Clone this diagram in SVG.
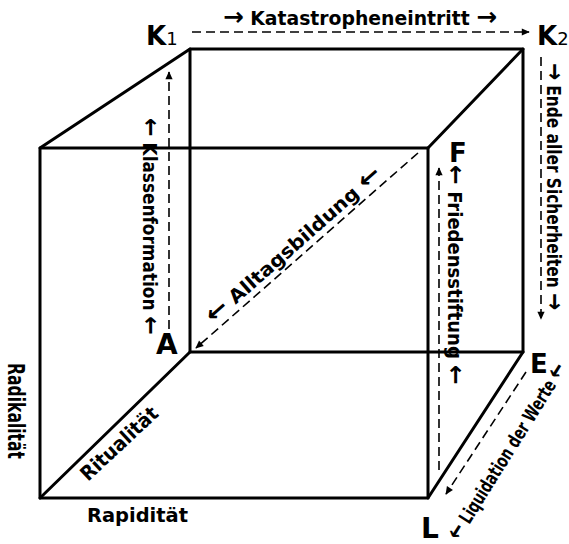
<svg xmlns="http://www.w3.org/2000/svg" width="569" height="544" viewBox="0 0 569 544">
<style>
.edge{stroke:#000;stroke-width:3;fill:none;stroke-linecap:round;stroke-linejoin:round}
.dash{stroke:#000;stroke-width:1.6;fill:none;stroke-dasharray:9 5}
.t{font-family:"DejaVu Sans","Liberation Sans",Arial,sans-serif;font-weight:bold;font-size:19px;fill:#000}
.ar{font-size:25px}
.lbl{font-family:"DejaVu Sans","Liberation Sans",Arial,sans-serif;font-weight:bold;font-size:26px;fill:#000}
.sub{font-weight:normal;font-size:18px}
</style>
<defs>
<marker id="ah" viewBox="0 0 10 10" refX="9" refY="5" markerWidth="9" markerHeight="8" markerUnits="userSpaceOnUse" orient="auto">
<path d="M0,0.5 L10,5 L0,9.5 z" fill="#000"/>
</marker>
</defs>
<rect width="569" height="544" fill="#fff"/>
<g id="cube">
<rect class="edge" x="190" y="49" width="333" height="303"/>
<rect class="edge" x="40" y="148" width="388" height="350"/>
<line class="edge" x1="40" y1="148" x2="190" y2="49"/>
<line class="edge" x1="428" y1="148" x2="523" y2="49"/>
<line class="edge" x1="40" y1="498" x2="190" y2="352"/>
<line class="edge" x1="428" y1="498" x2="523" y2="352"/>
</g>
<g id="connectors">
<line class="dash" x1="192" y1="32" x2="529" y2="32" marker-end="url(#ah)"/>
<line class="dash" x1="541" y1="57" x2="541" y2="319" marker-end="url(#ah)"/>
<line class="dash" x1="169" y1="343" x2="169" y2="72" marker-end="url(#ah)"/>
<line class="dash" x1="439" y1="470" x2="439" y2="168" marker-end="url(#ah)"/>
<line class="dash" x1="418" y1="153" x2="196" y2="348" marker-end="url(#ah)"/>
<line class="dash" x1="526" y1="372" x2="446" y2="494" marker-end="url(#ah)"/>
</g>
<g id="connector-labels">
<text class="t" x="223" y="25" textLength="274" lengthAdjust="spacingAndGlyphs"><tspan class="ar">→</tspan> Katastropheneintritt <tspan class="ar">→</tspan></text>
<text class="t" transform="translate(547,63) rotate(90)" textLength="247" lengthAdjust="spacingAndGlyphs"><tspan class="ar">→</tspan> Ende aller Sicherheiten <tspan class="ar">→</tspan></text>
<text class="t" transform="translate(143,118) rotate(90)" textLength="217" lengthAdjust="spacingAndGlyphs"><tspan class="ar">←</tspan> Klassenformation <tspan class="ar">←</tspan></text>
<text class="t" transform="translate(448,165) rotate(90)" textLength="220" lengthAdjust="spacingAndGlyphs"><tspan class="ar">←</tspan> Friedensstiftung <tspan class="ar">←</tspan></text>
<text class="t" text-anchor="middle" transform="translate(298,250) rotate(-41.3)" textLength="225" lengthAdjust="spacingAndGlyphs"><tspan class="ar">←</tspan> Alltagsbildung <tspan class="ar">←</tspan></text>
<text class="t" text-anchor="middle" transform="translate(513,455) rotate(-58)" textLength="204" lengthAdjust="spacingAndGlyphs"><tspan class="ar">←</tspan> Liquidation der Werte <tspan class="ar">←</tspan></text>
</g>
<g id="axis-labels">
<text class="t" style="font-size:23px" transform="translate(8,363) rotate(90)" textLength="96" lengthAdjust="spacingAndGlyphs">Radikalität</text>
<text class="t" style="font-size:20px" x="87" y="522" textLength="101" lengthAdjust="spacingAndGlyphs">Rapidität</text>
<text class="t" style="font-size:20px" transform="translate(88,482) rotate(-43)" textLength="98" lengthAdjust="spacingAndGlyphs">Ritualität</text>
</g>
<g id="node-K1"><text class="lbl" x="146" y="45">K<tspan class="sub">1</tspan></text></g>
<g id="node-K2"><text class="lbl" x="537" y="45">K<tspan class="sub">2</tspan></text></g>
<g id="node-A"><text class="lbl" style="font-size:28px" x="156" y="354">A</text></g>
<g id="node-F"><text class="lbl" x="449" y="162">F</text></g>
<g id="node-E"><text class="lbl" x="530" y="373">E</text></g>
<g id="node-L"><text class="lbl" style="font-size:28px" x="421" y="538">L</text></g>
</svg>
